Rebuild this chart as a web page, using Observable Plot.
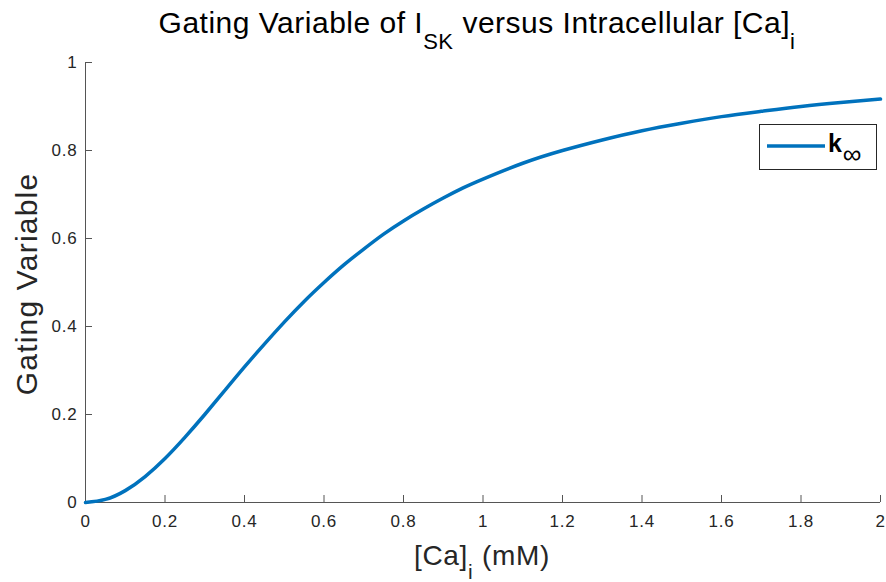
<!DOCTYPE html>
<html>
<head>
<meta charset="utf-8">
<script src="https://cdn.jsdelivr.net/npm/d3@7"></script>
<script src="https://cdn.jsdelivr.net/npm/@observablehq/plot@0.6"></script>
<style>
  html, body { margin: 0; padding: 0; background: white; }
  #chart { width: 886px; height: 582px; }
</style>
</head>
<body>
<div id="chart"></div>
<script>
// Calcium concentration [Ca]_i (mM)
const caValues = [0, 0.05, 0.1, 0.15, 0.2, 0.25, 0.3, 0.35, 0.4, 0.45, 0.5, 0.55, 0.6, 0.65, 0.7, 0.75, 0.8, 0.85, 0.9, 0.95, 1.0,
  1.1, 1.2, 1.3, 1.4, 1.5, 1.6, 1.7, 1.8, 1.9, 2.0];
// Gating variable k_inf
const kInfValues = [0, 0.007, 0.027, 0.059, 0.100, 0.148, 0.200, 0.254, 0.308, 0.360, 0.410, 0.457, 0.500, 0.540, 0.576, 0.610, 0.640, 0.667, 0.692, 0.715, 0.735,
  0.771, 0.800, 0.824, 0.845, 0.862, 0.877, 0.889, 0.900, 0.909, 0.917];
const xTicks = [0, 0.2, 0.4, 0.6, 0.8, 1, 1.2, 1.4, 1.6, 1.8, 2];
const yTicks = [0, 0.2, 0.4, 0.6, 0.8, 1];
const seriesName = "k";

const data = caValues.map((x, i) => ({x, y: kInfValues[i]}));
const fmt = d => String(d);
const axisColor = "#262626";
const fontFamily = "'Liberation Sans', Arial, Helvetica, sans-serif";

const chart = Plot.plot({
  width: 886,
  height: 582,
  marginLeft: 85,
  marginRight: 6,
  marginTop: 62,
  marginBottom: 80,
  style: {fontFamily, fontSize: "17px", color: axisColor, background: "white", overflow: "visible", letterSpacing: "0.8px"},
  x: {domain: [0, 2]},
  y: {domain: [0, 1]},
  marks: [
    Plot.axisX({ticks: xTicks, tickFormat: fmt, tickSize: -7, tickPadding: 19, label: null, stroke: "#555"}),
    Plot.axisY({ticks: yTicks, tickFormat: fmt, tickSize: -7, tickPadding: 15, label: null, stroke: "#555"}),
    Plot.ruleY([0], {stroke: "#555", strokeWidth: 1}),
    Plot.ruleX([0], {stroke: "#555", strokeWidth: 1}),
    Plot.line(data, {x: "x", y: "y", stroke: "#0072BD", strokeWidth: 3.5, curve: "natural"})
  ]
});
document.getElementById("chart").appendChild(chart);

const svg = d3.select(chart);
// Title
const title = svg.append("text")
  .attr("x", 477).attr("y", 33)
  .attr("text-anchor", "middle")
  .attr("font-family", fontFamily).attr("font-size", 30).attr("letter-spacing", "0.5px").attr("fill", "#000");
title.append("tspan").text("Gating Variable of I");
title.append("tspan").attr("dy", 16).attr("font-size", 22).text("SK");
title.append("tspan").attr("dy", -16).text(" versus Intracellular [Ca]");
title.append("tspan").attr("dy", 16).attr("font-size", 22).text("i");

// X label
const xl = svg.append("text")
  .attr("x", 482).attr("y", 565)
  .attr("text-anchor", "middle")
  .attr("font-family", fontFamily).attr("font-size", 28).attr("letter-spacing", "0.7px").attr("fill", axisColor);
xl.append("tspan").text("[Ca]");
xl.append("tspan").attr("dy", 14).attr("font-size", 21).text("i");
xl.append("tspan").attr("dy", -14).text(" (mM)");

// Y label
svg.append("text")
  .attr("transform", "translate(37,284) rotate(-90)")
  .attr("text-anchor", "middle")
  .attr("font-family", fontFamily).attr("font-size", 30).attr("letter-spacing", "1.2px").attr("fill", axisColor)
  .text("Gating Variable");

// Legend
const lg = svg.append("g");
lg.append("rect").attr("x", 759.5).attr("y", 124.5).attr("width", 117).attr("height", 45)
  .attr("fill", "white").attr("stroke", "#262626").attr("stroke-width", 1);
lg.append("line").attr("x1", 767).attr("x2", 825).attr("y1", 146).attr("y2", 146)
  .attr("stroke", "#0072BD").attr("stroke-width", 3.5);
const lt = lg.append("text").attr("x", 828).attr("y", 152)
  .attr("text-anchor", "start")
  .attr("font-family", fontFamily).attr("font-size", 25).attr("font-weight", "bold").attr("fill", "#000");
lt.append("tspan").text(seriesName);
lt.append("tspan").attr("dy", 11).attr("font-size", 26).attr("font-weight", "normal").text("\u221E");
</script>
</body>
</html>
